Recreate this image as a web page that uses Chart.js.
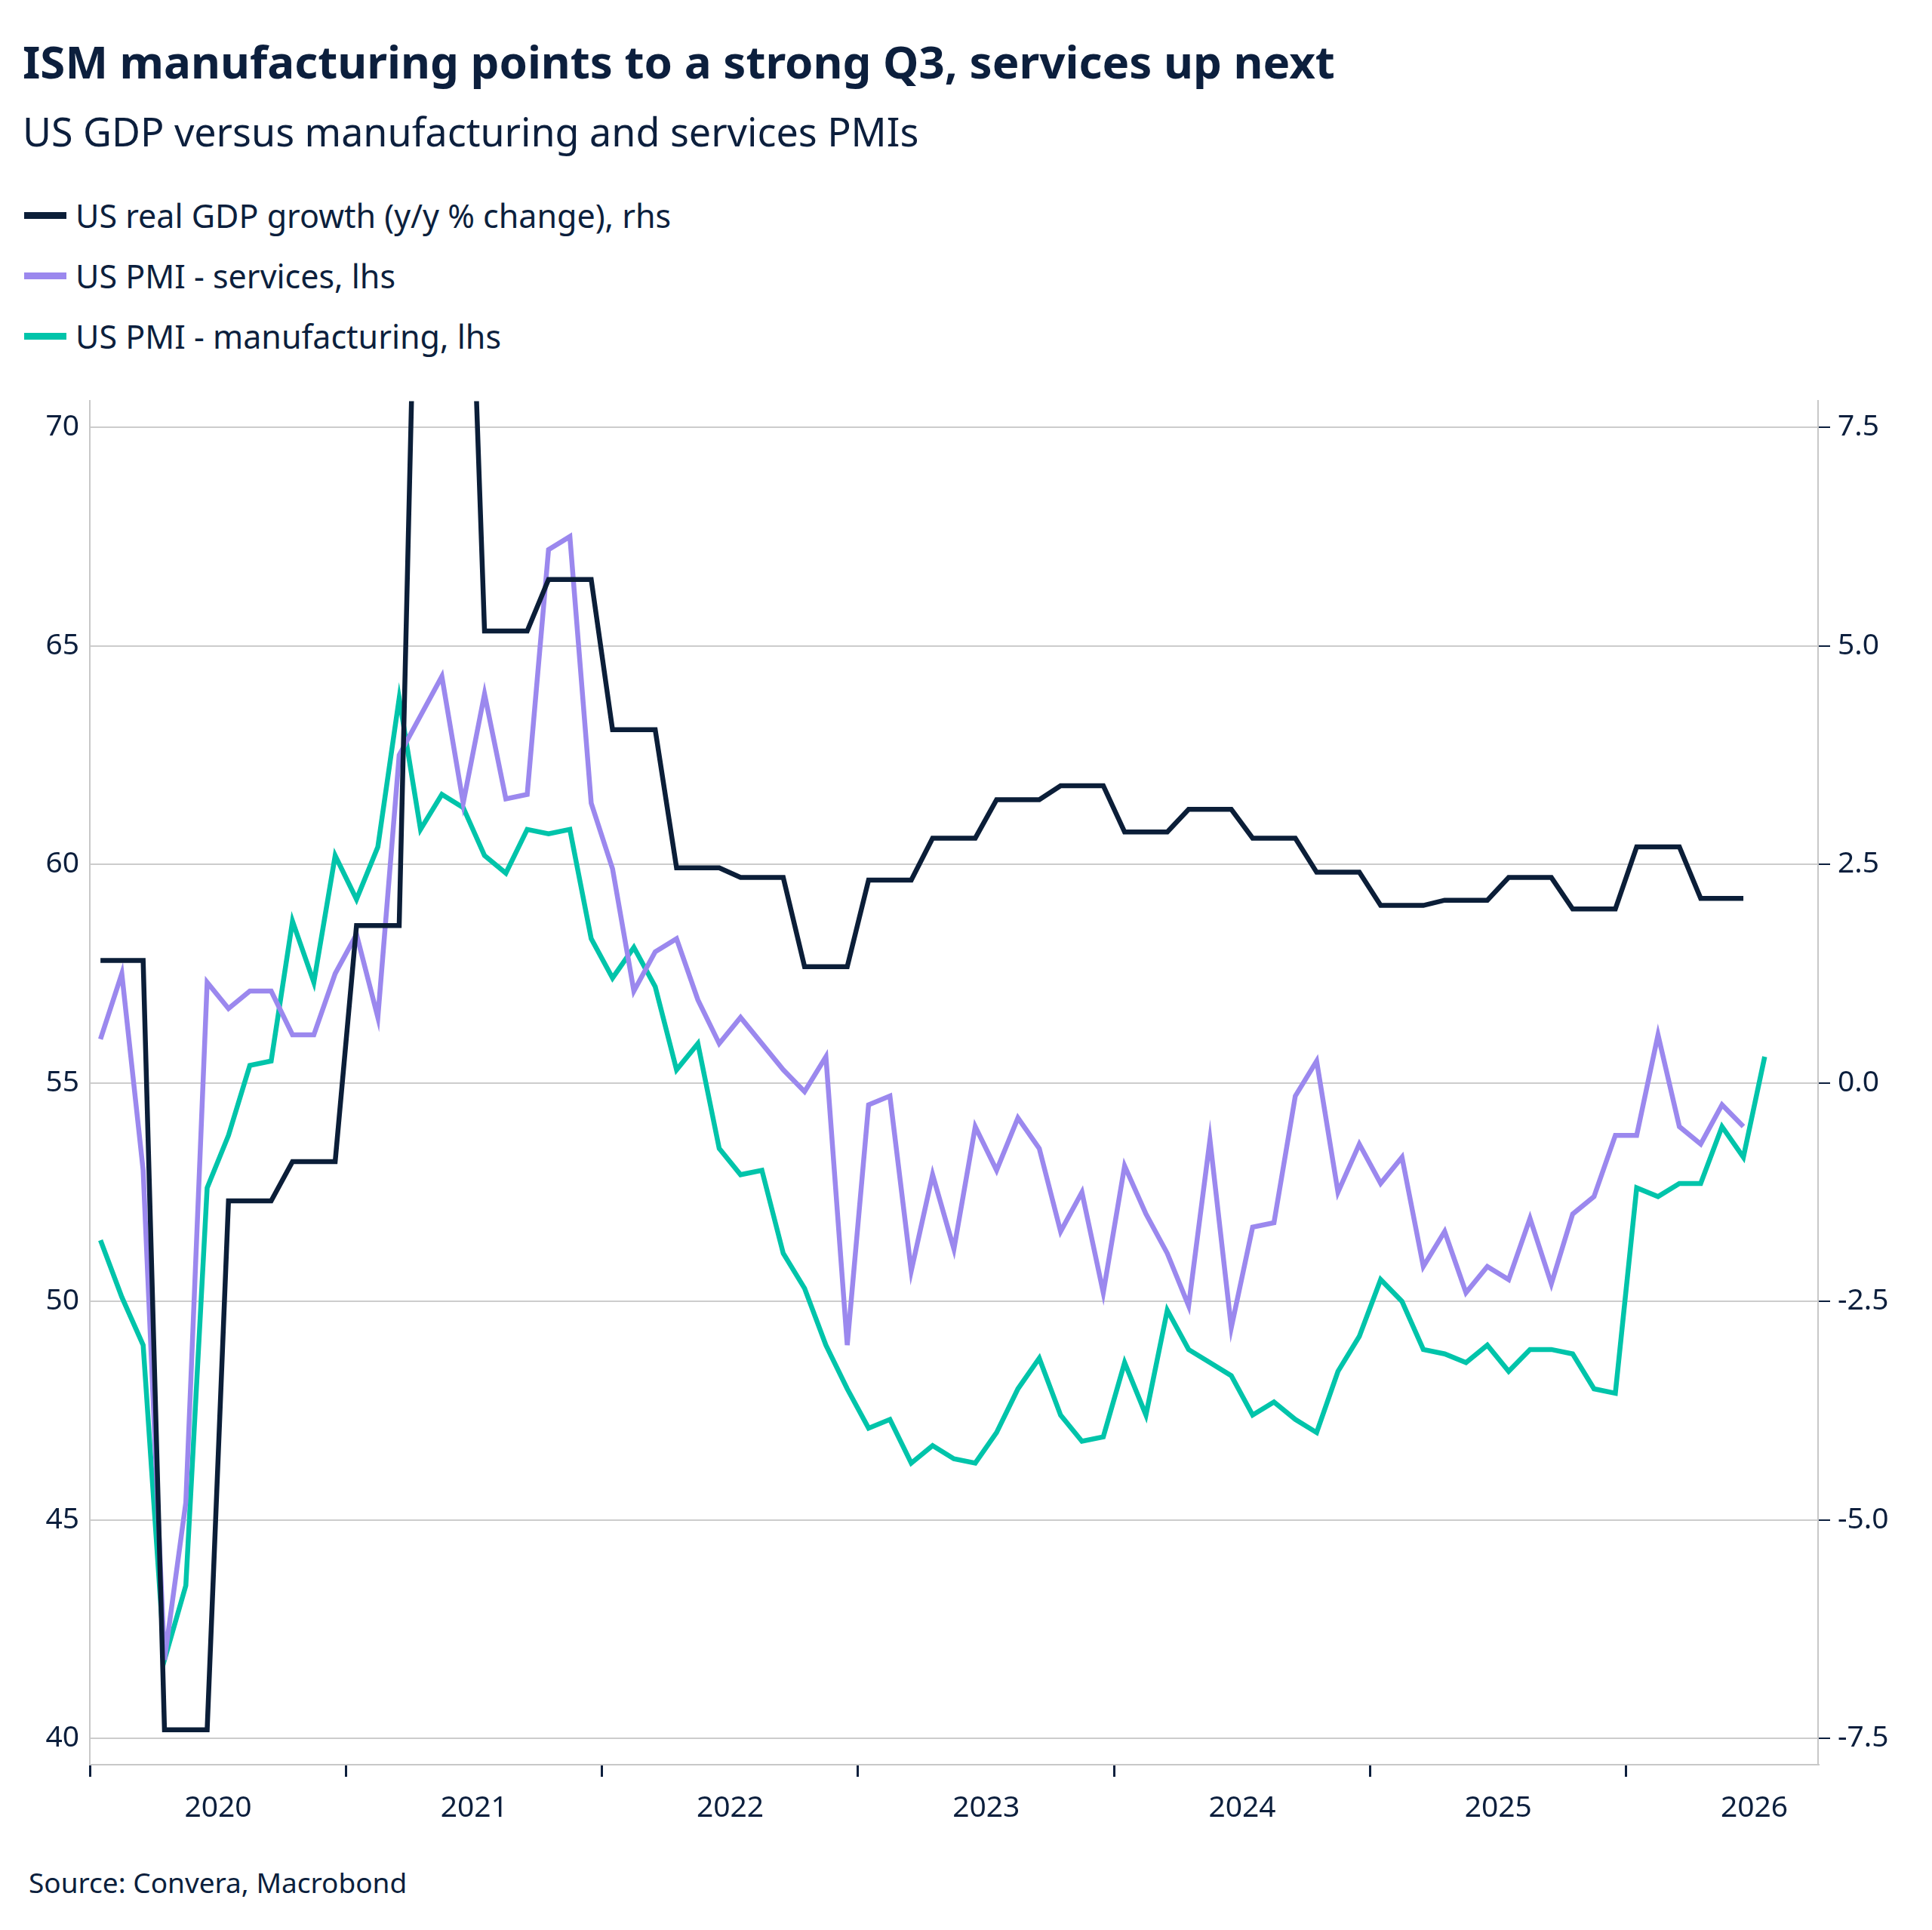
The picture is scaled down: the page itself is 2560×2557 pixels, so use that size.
<!DOCTYPE html>
<html><head><meta charset="utf-8">
<script src="https://cdn.jsdelivr.net/npm/chart.js@4"></script>
<style>
html,body{margin:0;padding:0;background:#fff;width:2560px;height:2557px;overflow:hidden;font-family:"Noto Sans",sans-serif;color:#0c1f3d}
#t{position:absolute;left:30px;top:40px;font-size:60px;font-weight:bold}
#s{position:absolute;left:30px;top:138px;font-size:52px}
.lg{position:absolute;left:32px;font-size:43px;display:flex;align-items:center}
.lg span{display:inline-block;width:56px;height:9px;margin-right:12px}
#src{position:absolute;left:38px;top:2468px;font-size:37px}
#wrap{position:absolute;left:0;top:494px;width:2560px;height:1954px}
</style></head><body>
<div id="t">ISM manufacturing points to a strong Q3, services up next</div>
<div id="s">US GDP versus manufacturing and services PMIs</div>
<div class="lg" style="top:256px"><span style="background:#0b1e38"></span>US real GDP growth (y/y % change), rhs</div>
<div class="lg" style="top:336px"><span style="background:#9b88ee"></span>US PMI - services, lhs</div>
<div class="lg" style="top:416px"><span style="background:#00c4aa"></span>US PMI - manufacturing, lhs</div>
<div id="wrap"><canvas id="c"></canvas></div>
<div id="src">Source: Convera, Macrobond</div>
<script>
const startYear = 2020;
const years = ["2020","2021","2022","2023","2024","2025","2026"];
const manufacturing = [51.4,50.1,49.0,41.8,43.5,52.6,53.8,55.4,55.5,58.7,57.3,60.2,
59.2,60.4,63.8,60.8,61.6,61.3,60.2,59.8,60.8,60.7,60.8,58.3,
57.4,58.1,57.2,55.3,55.9,53.5,52.9,53.0,51.1,50.3,49.0,48.0,
47.1,47.3,46.3,46.7,46.4,46.3,47.0,48.0,48.7,47.4,46.8,46.9,
48.6,47.4,49.8,48.9,48.6,48.3,47.4,47.7,47.3,47.0,48.4,49.2,
50.5,50.0,48.9,48.8,48.6,49.0,48.4,48.9,48.9,48.8,48.0,47.9,
52.6,52.4,52.7,52.7,54.0,53.3,55.6];
const services = [56.0,57.5,53.0,41.8,45.4,57.3,56.7,57.1,57.1,56.1,56.1,57.5,
58.4,56.5,62.5,63.4,64.3,61.4,63.9,61.5,61.6,67.2,67.5,61.4,
59.9,57.1,58.0,58.3,56.9,55.9,56.5,55.9,55.3,54.8,55.6,49.0,
54.5,54.7,50.7,52.9,51.2,54.0,53.0,54.2,53.5,51.6,52.5,50.2,
53.1,52.0,51.1,49.9,53.7,49.4,51.7,51.8,54.7,55.5,52.5,53.6,
52.7,53.3,50.8,51.6,50.2,50.8,50.5,51.9,50.4,52.0,52.4,53.8,
53.8,56.1,54.0,53.6,54.5,54.0];
const gdpQuarterly = [1.4,-7.4,-1.35,-0.9,1.8,12.2,5.17,5.76,4.04,2.46,2.35,1.33,
2.32,2.8,3.24,3.4,2.87,3.13,2.8,2.41,2.03,2.09,2.35,1.99,2.7,2.11];

const pts = arr => arr.map((v,i)=>({x:i+0.5,y:v}));
const gdp = [];
gdpQuarterly.forEach((v,q)=>{for(let k=0;k<3;k++)gdp.push(v);});

const tickFont={family:"Noto Sans",size:39};
new Chart(document.getElementById('c'),{
 type:'line',
 data:{datasets:[
  {data:pts(manufacturing),borderColor:'#00c4aa',yAxisID:'y',order:3},
  {data:pts(services),borderColor:'#9b88ee',yAxisID:'y',order:2},
  {data:pts(gdp),borderColor:'#0b1e38',yAxisID:'y1',order:1}
 ]},
 options:{
  responsive:true,maintainAspectRatio:false,animation:false,
  layout:{padding:{top:20,left:0,right:0,bottom:0}},
  elements:{point:{radius:0},line:{borderWidth:6.5,tension:0,borderJoinStyle:'miter'}},
  plugins:{legend:{display:false},tooltip:{enabled:false}},
  scales:{
   x:{type:'linear',min:0,max:81,
      afterBuildTicks:s=>{s.ticks=s.ticks.filter(t=>t.value%12===0);},
      afterFit:s=>{s.height=110;},
      ticks:{stepSize:12,autoSkip:false,maxRotation:0,font:tickFont,color:'#0c1f3d',labelOffset:170,padding:18,
        callback:v=>years[v/12]||''},
      grid:{drawOnChartArea:false,tickLength:16,color:'#0c1f3d',lineWidth:3},
      border:{color:'#c8c8c8',width:2}},
   y:{position:'left',min:39.4,max:70.6,
      afterBuildTicks:s=>{s.ticks=[40,45,50,55,60,65,70].map(v=>({value:v}));},
      afterFit:s=>{s.width=119;},
      ticks:{font:tickFont,color:'#0c1f3d',padding:14},
      grid:{color:'#cccccc',lineWidth:2,tickLength:0},
      border:{color:'#c8c8c8',width:2}},
   y1:{position:'right',min:-7.8,max:7.8,
      afterBuildTicks:s=>{s.ticks=[-7.5,-5,-2.5,0,2.5,5,7.5].map(v=>({value:v}));},
      afterFit:s=>{s.width=151;},
      ticks:{font:tickFont,color:'#0c1f3d',padding:10,callback:v=>v.toFixed(1)},
      grid:{drawOnChartArea:false,tickLength:16,color:'#0c1f3d',lineWidth:2},
      border:{color:'#c8c8c8',width:2}}
  }
 }
});
</script>
</body></html>
